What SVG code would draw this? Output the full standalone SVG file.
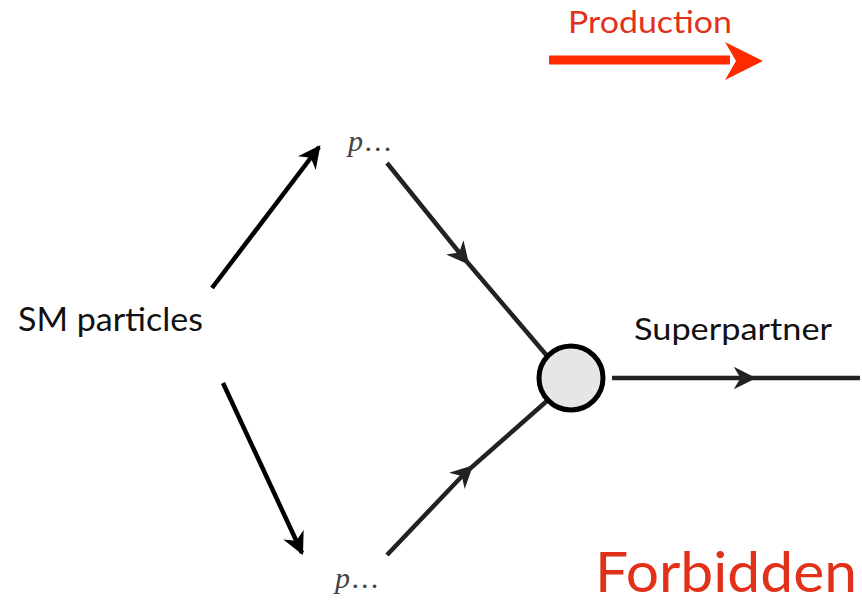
<svg xmlns="http://www.w3.org/2000/svg" width="862" height="603" viewBox="0 0 862 603">
<style>
.lbl{font-family:"Lato","Liberation Sans",sans-serif;fill:#111}
.red{font-family:"Lato","Liberation Sans",sans-serif;fill:#e2311a}
.p{font-family:"Liberation Serif",serif;font-style:italic;fill:#444;font-size:30px}
.ln{stroke:#222;stroke-width:4.5;fill:none}
.ar{stroke:#000;stroke-width:4.5;fill:none}
</style>
<defs>
<marker id="head" viewBox="0 0 10 10" refX="9" refY="5" markerWidth="5" markerHeight="5" markerUnits="strokeWidth" orient="auto"><path d="M0,0 L10,5 L0,10 L3,5 Z" fill="#000"/></marker>
<marker id="mid" viewBox="0 0 10 10" refX="5" refY="5" markerWidth="5" markerHeight="5" markerUnits="strokeWidth" orient="auto"><path d="M0,0 L10,5 L0,10 L3,5 Z" fill="#222"/></marker>
</defs>
<rect width="862" height="603" fill="#fff"/>
<g id="connectors">
<line class="ar" x1="212" y1="288" x2="319" y2="147" marker-end="url(#head)"/>
<line class="ar" x1="223" y1="383" x2="302" y2="553" marker-end="url(#head)"/>
<polyline class="ln" points="387,163 462,256 548,357" marker-mid="url(#mid)"/>
<polyline class="ln" points="387,555 465,473 548,400" marker-mid="url(#mid)"/>
<polyline class="ln" points="612,378 745,378 860,378" marker-mid="url(#mid)"/>
</g>
<g id="production">
<line x1="549" y1="60" x2="730" y2="60" stroke="#ff2a00" stroke-width="9"/>
<path d="M725,42 L763,61 L725,80 L736,61 Z" fill="#ff2a00"/>
<text class="red" x="568" y="33" font-size="31" textLength="164" lengthAdjust="spacingAndGlyphs">Production</text>
</g>
<g id="sm"><text class="lbl" x="18" y="331" font-size="32" textLength="185" lengthAdjust="spacingAndGlyphs">SM particles</text></g>
<g id="p-top"><text class="p" x="348" y="151" textLength="44">p...</text></g>
<g id="p-bottom"><text class="p" x="335" y="588" textLength="44">p...</text></g>
<g id="vertex"><circle cx="571" cy="378" r="32" fill="#e6e6e6" stroke="#000" stroke-width="5"/></g>
<g id="superpartner"><text class="lbl" x="634" y="340" font-size="31" textLength="198" lengthAdjust="spacingAndGlyphs">Superpartner</text></g>
<g id="forbidden"><text class="red" x="595" y="592" font-size="56" textLength="262" lengthAdjust="spacingAndGlyphs">Forbidden</text></g>
</svg>
